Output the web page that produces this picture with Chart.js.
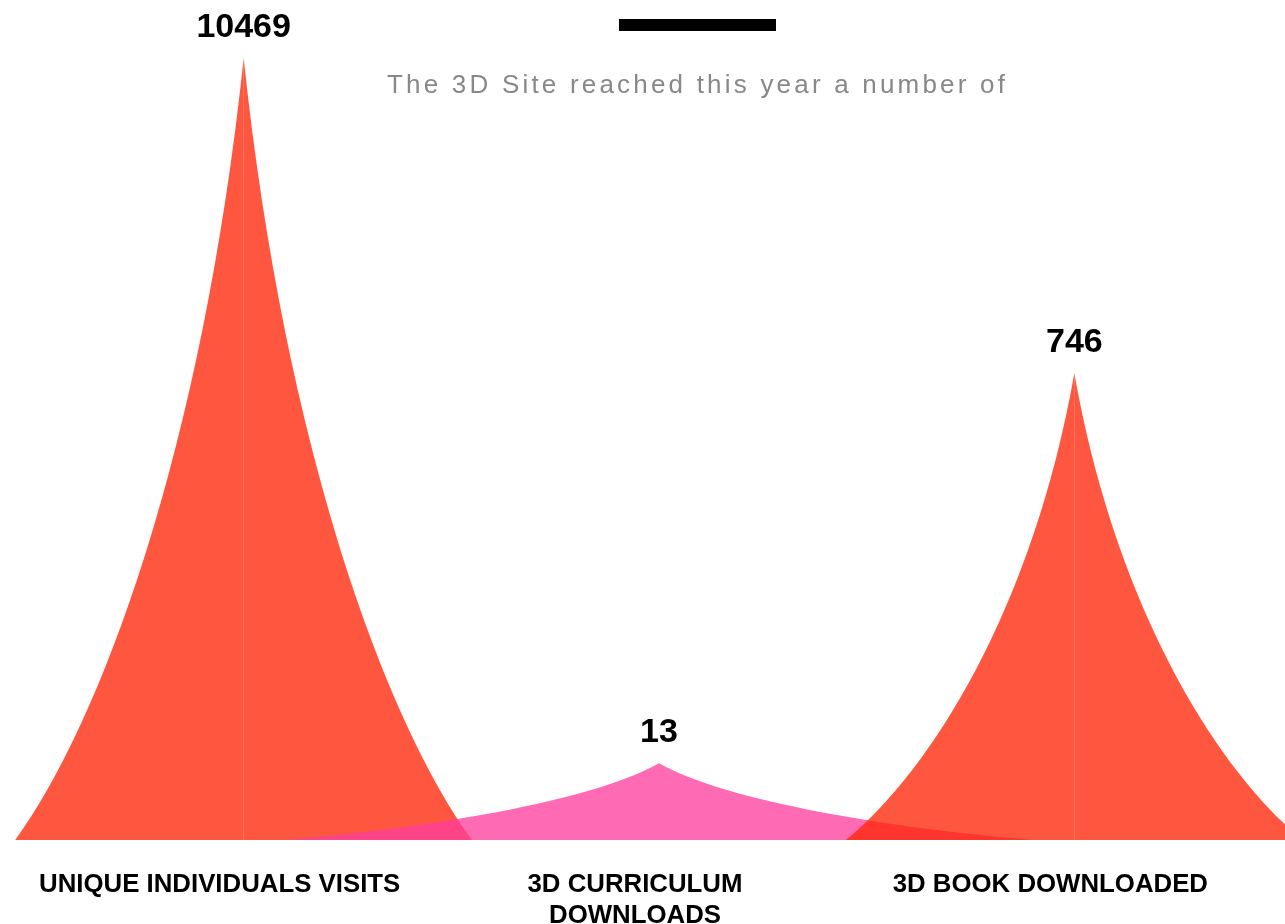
<!DOCTYPE html>
<html>
<head>
<meta charset="utf-8">
<title>3D Site reach</title>
<script src="https://cdn.jsdelivr.net/npm/chart.js@4/dist/chart.umd.min.js"></script>
<style>
  html, body { margin: 0; padding: 0; background: #fff; overflow: hidden; }
  #wrap { position: relative; width: 1285px; height: 924px; }
  #bar { position: absolute; left: 619px; top: 19px; width: 157px; height: 12px; background: #000; }
  #sub {
    position: absolute; left: 387px; top: 69px; white-space: nowrap;
    font: 26px/30px Arial, "Liberation Sans", sans-serif;
    letter-spacing: 3.2px; color: #888;
  }
  canvas { position: absolute; left: 0; top: 0; }
</style>
</head>
<body>
<div id="wrap">
  <canvas id="spikes" width="1285" height="924"></canvas>
  <div id="bar"></div>
  <div id="sub">The 3D Site reached this year a number of</div>
</div>
<script>
// --- data ---
const categories = ['UNIQUE INDIVIDUALS VISITS', ['3D CURRICULUM', 'DOWNLOADS'], '3D BOOK DOWNLOADED'];
const counts = [10469, 13, 746];
// drawn spike heights, % of plot height (the picture does not scale them to the counts)
const spikeHeights = [100, 9.8, 59.7];

// --- styling ---
const FONT = 'Arial, "Liberation Sans", sans-serif';
const spikeColors = ['rgba(255, 37, 5, 0.77)', 'rgba(255, 61, 158, 0.77)', 'rgba(255, 37, 5, 0.77)'];
const spikeSpread = [1.1, 1.8, 1.1];   // barPercentage of each spike
const drawOrder = [3, 2, 1];            // later spikes sit on top

// spike = two concave halves meeting at the tip
const spikePlugin = {
  id: 'spikes',
  beforeDatasetDraw(chart, args) {
    const ctx = chart.ctx;
    const ds = chart.data.datasets[args.index];
    args.meta.data.forEach((bar, j) => {
      if (ds.data[j] == null) return;
      const { x, y, base, width } = bar.getProps(['x', 'y', 'base', 'width'], true);
      const hw = width / 2;
      const h = base - y;
      ctx.save();
      ctx.fillStyle = ds.backgroundColor;
      [-1, 1].forEach(side => {
        ctx.beginPath();
        ctx.moveTo(x, base);
        ctx.lineTo(x + side * hw, base);
        ctx.bezierCurveTo(
          x + side * hw * 0.625, base - h * 0.15,
          x + side * hw * 0.18, base - h * 0.5,
          x, y
        );
        ctx.closePath();
        ctx.fill();
      });
      ctx.restore();
    });
    return false;
  },
  afterDatasetsDraw(chart) {
    const ctx = chart.ctx;
    ctx.save();
    ctx.font = 'bold 34px ' + FONT;
    ctx.fillStyle = '#000';
    ctx.textAlign = 'center';
    ctx.textBaseline = 'alphabetic';
    chart.data.datasets.forEach((ds, i) => {
      const bar = chart.getDatasetMeta(i).data[i];
      ctx.fillText(String(counts[i]), bar.x, bar.y - 21);
    });
    ctx.restore();
  }
};

const datasets = categories.map((c, i) => ({
  label: Array.isArray(c) ? c.join(' ') : c,
  data: spikeHeights.map((h, j) => (j === i ? h : null)),
  backgroundColor: spikeColors[i],
  barPercentage: spikeSpread[i],
  categoryPercentage: 1,
  grouped: false,
  order: drawOrder[i]
}));

new Chart(document.getElementById('spikes').getContext('2d'), {
  type: 'bar',
  data: { labels: categories, datasets },
  plugins: [spikePlugin],
  options: {
    responsive: false,
    devicePixelRatio: 1,
    animation: false,
    layout: { padding: { top: 58, left: 36, right: 3, bottom: 0 } },
    plugins: {
      legend: { display: false },
      tooltip: { enabled: false },
      title: { display: false }
    },
    scales: {
      x: {
        grid: { display: false, drawTicks: false },
        border: { display: false },
        ticks: {
          color: '#000',
          autoSkip: false,
          maxRotation: 0,
          padding: 29,
          labelOffset: -24,
          font: { family: FONT, size: 25.8, weight: 'bold', lineHeight: 1.2 }
        },
        afterFit(scale) { scale.height = 84; }
      },
      y: { display: false, min: 0, max: 100 }
    }
  }
});
</script>
</body>
</html>
